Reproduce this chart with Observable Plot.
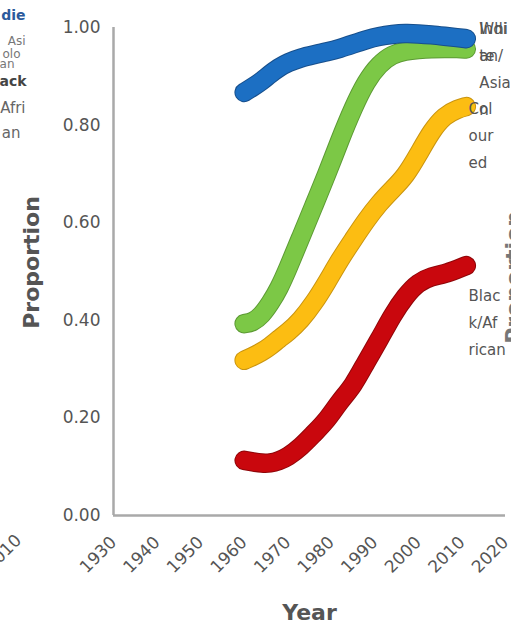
<!DOCTYPE html>
<html><head><meta charset="utf-8">
<script src="https://cdn.jsdelivr.net/npm/d3@7"></script>
<script src="https://cdn.jsdelivr.net/npm/@observablehq/plot@0.6"></script>
<style>body{margin:0;background:#fff;overflow:hidden}</style>
</head><body><div id="chart"></div>
<script>
const years = [1960,1962,1964,1966,1968,1970,1973,1976,1979,1982,1985,1988,1991,1994,1997,2000,2003,2006,2009,2011];
const coloured = [0.318,0.326,0.335,0.347,0.362,0.375,0.400,0.435,0.478,0.525,0.565,0.605,0.640,0.668,0.695,0.740,0.788,0.820,0.833,0.838];
const indianAsian = [0.393,0.396,0.410,0.435,0.465,0.505,0.570,0.635,0.700,0.770,0.835,0.890,0.925,0.945,0.952,0.955,0.957,0.957,0.957,0.956];
const blackAfrican = [0.113,0.110,0.107,0.107,0.112,0.120,0.140,0.168,0.195,0.235,0.265,0.315,0.360,0.410,0.450,0.478,0.490,0.495,0.505,0.512];
const white = [0.867,0.878,0.890,0.905,0.918,0.928,0.938,0.944,0.950,0.957,0.966,0.975,0.982,0.986,0.988,0.987,0.985,0.982,0.979,0.977];

const seriesNames = ["Coloured","Indian/Asian","Black/African","White"];
const seriesValues = [coloured, indianAsian, blackAfrican, white];
const seriesColors = ["#fcbd12","#7cc846","#c9070d","#1c6fc3"];
const seriesEdges = ["#c99410","#5c9a34","#8f0609","#174f8c"];
// wrapped end labels as they appear, with their anchor positions (year, proportion)
const labelText = ["Col\nour\ned","Indi\nan/\nAsia\nn","Blac\nk/Af\nrican","Whi\nte"];
const labelX = [2011.5, 2014, 2011.5, 2014];
const labelY = [0.862, 1.026, 0.478, 1.026];

const xTicks = [1930,1940,1950,1960,1970,1980,1990,2000,2010,2020];
const yTicks = [0,0.2,0.4,0.6,0.8,1.0];

// cut-off fragments of the neighbouring panels
const leftFragments = ["die","Asi","olo","an","ack","Afri","an"];
const leftTick = ["010"];
const rightTitle = ["Proportion"];

const lineMarks = [];
seriesNames.forEach((name, i) => {
  const data = years.map((yr, j) => ({year: yr, value: seriesValues[i][j], series: name}));
  lineMarks.push(Plot.line(data, {x: "year", y: "value", stroke: seriesEdges[i], strokeWidth: 19.5, curve: "basis", strokeLinecap: "round", strokeLinejoin: "round"}));
  lineMarks.push(Plot.line(data, {x: "year", y: "value", stroke: seriesColors[i], strokeWidth: 17.5, curve: "basis", strokeLinecap: "round", strokeLinejoin: "round"}));
});
const labels = seriesNames.map((name, i) => ({text: labelText[i], x: labelX[i], y: labelY[i]}));

const frag = (i, dx, dy, size, weight, fill) =>
  Plot.text([leftFragments[i]], {text: d => d, frameAnchor: "top-left", textAnchor: "end", lineAnchor: "middle", dx, dy, fontSize: size, fontWeight: weight, fill});

const chart = Plot.plot({
  width: 511, height: 630,
  marginLeft: 113, marginRight: 6, marginTop: 27, marginBottom: 115,
  x: {domain: [1930, 2020]},
  y: {domain: [0, 1]},
  style: {fontFamily: "DejaVu Sans", background: "#fff", color: "#555"},
  marks: [
    Plot.axisY({ticks: yTicks, tickFormat: d3.format(".2f"), tickSize: 0, tickPadding: 13, fontSize: 17, color: "#555", label: null}),
    Plot.axisX({ticks: xTicks, tickFormat: d3.format("d"), tickRotate: -45, tickSize: 0, tickPadding: 24, fontSize: 17, color: "#555", label: null}),
    Plot.ruleX([1930], {stroke: "#a9a9a9", strokeWidth: 2.5}),
    Plot.ruleY([0], {stroke: "#a9a9a9", strokeWidth: 2.5}),
    ...lineMarks,
    Plot.text(labels, {x: "x", y: "y", text: "text", textAnchor: "start", lineAnchor: "top", lineHeight: 1.8, fontSize: 15, fill: "#555"}),
    Plot.text(["Year"], {text: d => d, frameAnchor: "bottom", textAnchor: "middle", lineAnchor: "middle", dy: 97, fontSize: 22, fontWeight: "bold", fill: "#555"}),
    Plot.text(["Proportion"], {text: d => d, frameAnchor: "left", textAnchor: "middle", lineAnchor: "middle", dx: -82, dy: -9, rotate: -90, fontSize: 22, fontWeight: "bold", fill: "#555"}),
    Plot.text(rightTitle, {text: d => d, frameAnchor: "right", textAnchor: "middle", lineAnchor: "middle", dx: 8, dy: 6, rotate: -90, fontSize: 22, fontWeight: "bold", fill: "#777"}),
    frag(0, -88, -12, 14, "bold", "#2b5a9c"),
    frag(1, -88, 14, 12, "normal", "#777"),
    frag(2, -93, 27, 12, "normal", "#777"),
    frag(3, -99, 37, 12, "normal", "#777"),
    frag(4, -87, 54, 14, "bold", "#444"),
    frag(5, -88, 81, 15, "normal", "#666"),
    frag(6, -93, 106, 15, "normal", "#666"),
    Plot.text(leftTick, {text: d => d, frameAnchor: "bottom-left", textAnchor: "end", lineAnchor: "middle", dx: -95, dy: 22, rotate: -45, fontSize: 17, fill: "#555"})
  ]
});
document.getElementById("chart").appendChild(chart);
</script>
</body></html>
